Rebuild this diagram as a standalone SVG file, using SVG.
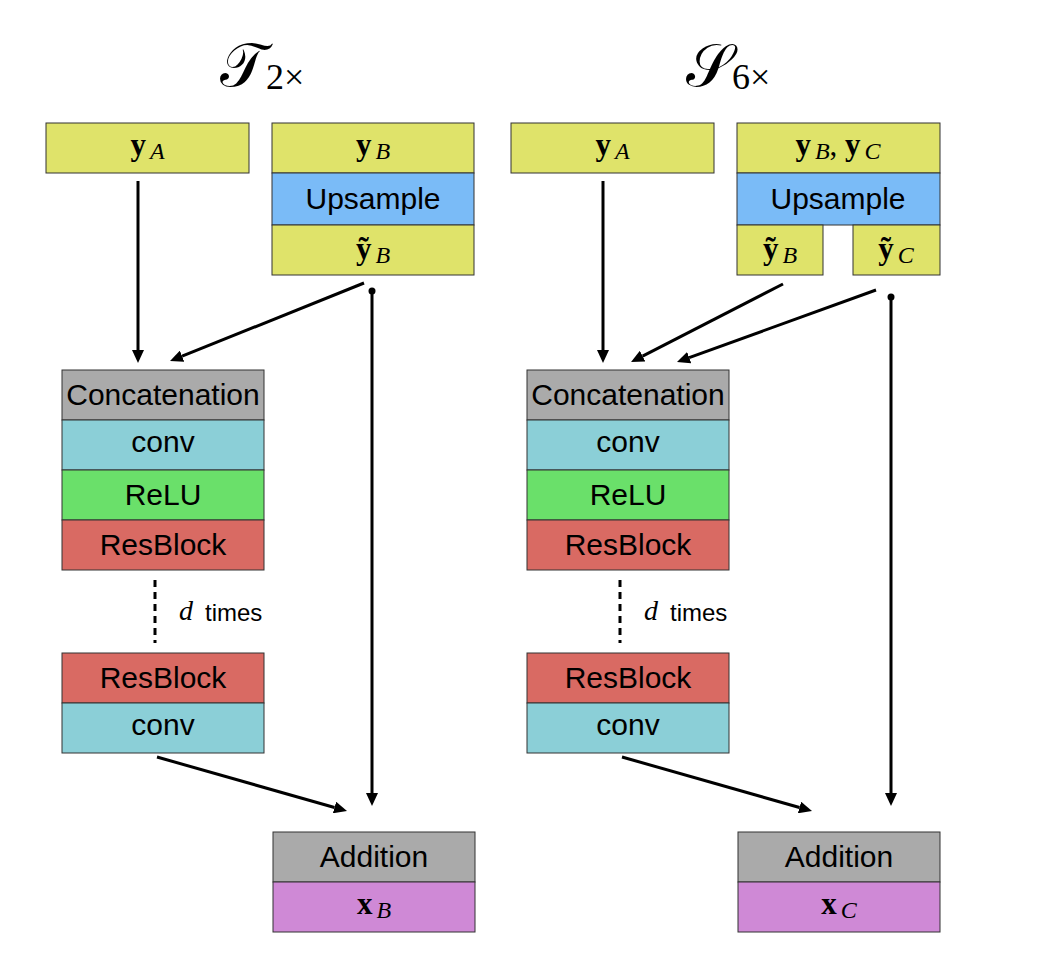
<svg xmlns="http://www.w3.org/2000/svg" width="1042" height="976" viewBox="0 0 1042 976">
<style>
.box{stroke:#333;stroke-width:1}
.yel{fill:#dfe36a}.blu{fill:#7abbf7}.gry{fill:#aaaaaa}.cya{fill:#8bcfd7}.grn{fill:#6ae06a}.red{fill:#d96a63}.pur{fill:#cf89d6}
.lbl{font-family:"Liberation Sans",Arial,sans-serif;font-size:30px;fill:#000;text-anchor:middle}
.m{font-family:"Liberation Serif","Times New Roman",serif;font-size:31px;fill:#000;text-anchor:middle}
.b{font-weight:bold}
.i{font-style:italic;font-size:24px}
.ttl{font-family:"DejaVu Serif","Liberation Serif",serif;font-size:60px;fill:#000}
.sub{font-family:"Liberation Serif",serif;font-size:36px;font-style:normal}
.ln{stroke:#000;stroke-width:3;fill:none}
.dash{stroke:#000;stroke-width:3;stroke-dasharray:7,5;fill:none}
.small{font-family:"Liberation Sans",Arial,sans-serif;font-size:24px;fill:#000}
</style>
<defs>
<marker id="ah" markerUnits="userSpaceOnUse" markerWidth="13" markerHeight="12" refX="0" refY="6" orient="auto" viewBox="0 0 13 12">
<path d="M0,0 L13,6 L0,12 z" fill="#000"/>
</marker>
</defs>
<rect width="1042" height="976" fill="#fff"/>

<text x="220" y="86" class="ttl">𝒯<tspan class="sub" dy="3">2×</tspan></text>
<text x="686" y="86" class="ttl">𝒮<tspan class="sub" dy="3">6×</tspan></text>

<!-- Left panel -->
<g id="L_yA"><rect class="box yel" x="46" y="123" width="203" height="50"/>
<text class="m" x="147.5" y="155"><tspan class="b">y</tspan><tspan class="i" dx="4" dy="4">A</tspan></text></g>
<g id="L_in"><rect class="box yel" x="272" y="123" width="202" height="50"/>
<text class="m" x="373" y="155"><tspan class="b">y</tspan><tspan class="i" dx="4" dy="4">B</tspan></text>
<rect class="box blu" x="272" y="173" width="202" height="52"/>
<text class="lbl" x="373" y="209">Upsample</text>
<rect class="box yel" x="272" y="225" width="202" height="50"/>
<text class="m" x="373" y="259"><tspan class="b">ỹ</tspan><tspan class="i" dx="4" dy="4">B</tspan></text></g>
<g id="L_net">
<rect class="box gry" x="62" y="370" width="202" height="50"/><text class="lbl" x="163" y="405">Concatenation</text>
<rect class="box cya" x="62" y="420" width="202" height="50"/><text class="lbl" x="163" y="452">conv</text>
<rect class="box grn" x="62" y="470" width="202" height="50"/><text class="lbl" x="163" y="505">ReLU</text>
<rect class="box red" x="62" y="520" width="202" height="50"/><text class="lbl" x="163" y="555">ResBlock</text>
<rect class="box red" x="62" y="653" width="202" height="50"/><text class="lbl" x="163" y="688">ResBlock</text>
<rect class="box cya" x="62" y="703" width="202" height="50"/><text class="lbl" x="163" y="735">conv</text>
</g>
<g id="L_rep"><line class="dash" x1="155" y1="580" x2="155" y2="643"/>
<text x="179" y="620" class="m" style="text-anchor:start;font-style:italic;font-size:28px">d</text><text x="205" y="621" class="small">times</text></g>
<g id="L_out">
<rect class="box gry" x="273" y="832" width="202" height="50"/><text class="lbl" x="374" y="867">Addition</text>
<rect class="box pur" x="273" y="882" width="202" height="50"/>
<text class="m" x="374" y="914"><tspan class="b">x</tspan><tspan class="i" dx="4" dy="4">B</tspan></text></g>

<!-- Right panel -->
<g id="R_yA"><rect class="box yel" x="511" y="123" width="203" height="50"/>
<text class="m" x="612.5" y="155"><tspan class="b">y</tspan><tspan class="i" dx="4" dy="4">A</tspan></text></g>
<g id="R_in"><rect class="box yel" x="737" y="123" width="203" height="50"/>
<text class="m" x="838" y="155"><tspan class="b">y</tspan><tspan class="i" dx="4" dy="4">B</tspan><tspan dy="-4">, </tspan><tspan class="b">y</tspan><tspan class="i" dx="4" dy="4">C</tspan></text>
<rect class="box blu" x="737" y="173" width="203" height="52"/>
<text class="lbl" x="838" y="209">Upsample</text>
<rect class="box yel" x="737" y="225" width="86" height="50"/>
<text class="m" x="780" y="259"><tspan class="b">ỹ</tspan><tspan class="i" dx="4" dy="4">B</tspan></text>
<rect class="box yel" x="853" y="225" width="87" height="50"/>
<text class="m" x="896" y="259"><tspan class="b">ỹ</tspan><tspan class="i" dx="4" dy="4">C</tspan></text></g>
<g id="R_net">
<rect class="box gry" x="527" y="370" width="202" height="50"/><text class="lbl" x="628" y="405">Concatenation</text>
<rect class="box cya" x="527" y="420" width="202" height="50"/><text class="lbl" x="628" y="452">conv</text>
<rect class="box grn" x="527" y="470" width="202" height="50"/><text class="lbl" x="628" y="505">ReLU</text>
<rect class="box red" x="527" y="520" width="202" height="50"/><text class="lbl" x="628" y="555">ResBlock</text>
<rect class="box red" x="527" y="653" width="202" height="50"/><text class="lbl" x="628" y="688">ResBlock</text>
<rect class="box cya" x="527" y="703" width="202" height="50"/><text class="lbl" x="628" y="735">conv</text>
</g>
<g id="R_rep"><line class="dash" x1="620" y1="580" x2="620" y2="643"/>
<text x="644" y="620" class="m" style="text-anchor:start;font-style:italic;font-size:28px">d</text><text x="670" y="621" class="small">times</text></g>
<g id="R_out">
<rect class="box gry" x="738" y="832" width="202" height="50"/><text class="lbl" x="839" y="867">Addition</text>
<rect class="box pur" x="738" y="882" width="202" height="50"/>
<text class="m" x="839" y="914"><tspan class="b">x</tspan><tspan class="i" dx="4" dy="4">C</tspan></text></g>

<g id="connectors">
<line class="ln" x1="138" y1="181" x2="138" y2="350" marker-end="url(#ah)"/>
<line class="ln" x1="364" y1="283" x2="182.1" y2="356.2" marker-end="url(#ah)"/>
<circle cx="372" cy="291" r="3.5" fill="#000"/>
<line class="ln" x1="372" y1="291" x2="372" y2="793" marker-end="url(#ah)"/>
<line class="ln" x1="157" y1="757" x2="334.5" y2="807.5" marker-end="url(#ah)"/>

<line class="ln" x1="603" y1="181" x2="603" y2="350" marker-end="url(#ah)"/>
<line class="ln" x1="783" y1="284" x2="642.6" y2="356.1" marker-end="url(#ah)"/>
<line class="ln" x1="876" y1="290" x2="689.2" y2="357.6" marker-end="url(#ah)"/>
<circle cx="891" cy="297" r="3.5" fill="#000"/>
<line class="ln" x1="891" y1="297" x2="891" y2="793" marker-end="url(#ah)"/>
<line class="ln" x1="622" y1="757" x2="799.5" y2="807.5" marker-end="url(#ah)"/>
</g>
</svg>
